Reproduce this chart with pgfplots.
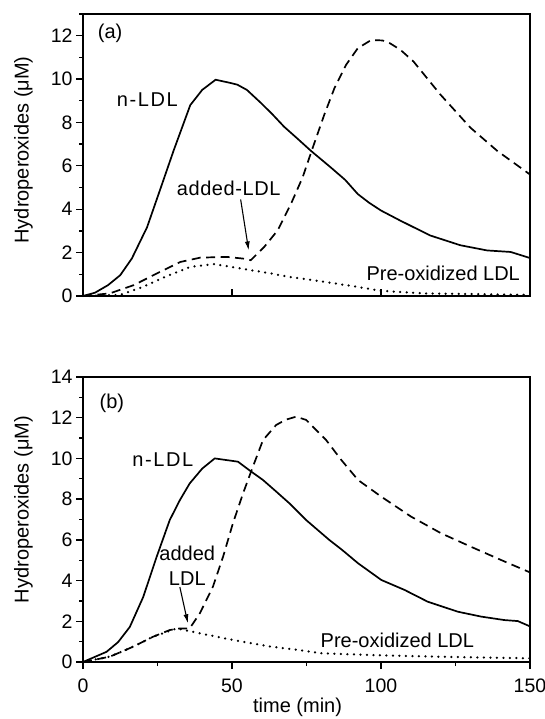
\documentclass[border=0pt]{standalone}
\usepackage{fontspec}
\setmainfont{Liberation Sans}
\usepackage{pgfplots}
\pgfplotsset{compat=1.18}
\usetikzlibrary{arrows.meta}

\pgfplotsset{
  panel/.style={
    scale only axis, width=447pt, xmin=0, xmax=150, ymin=0,
    axis line style={line width=1.6pt},
    every tick/.style={black, line width=1.3pt},
    ytick distance=2, minor y tick num=1,
    major tick length=7pt, minor tick length=4pt,
    ytick align=outside, ytick pos=left, xtick pos=bottom,
    tick label style={font=\fontsize{19.5}{22}\selectfont},
    label style={font=\fontsize{20}{22}\selectfont},
    /pgf/number format/assume math mode=true,
    clip=false,
    ylabel={Hydroperoxides (μM)},
  },
  sol/.style={black, line width=1.7pt},
  das/.style={black, line width=1.7pt, dash pattern=on 9pt off 5.5pt},
  dot/.style={black, line width=2.5pt, line cap=round, dash pattern=on 0pt off 6.5pt},
}
\newcommand{\ann}{\fontsize{20}{25}\selectfont}

\begin{document}
\begin{tikzpicture}
\useasboundingbox (0,0) rectangle (545pt,719pt);

% panel (a)
\begin{axis}[panel, at={(83pt,423pt)}, anchor=south west, height=282pt, ymax=13,
    xtick={50,100}, xticklabels={}, xtick align=inside,
    ylabel style={at={(axis description cs:-0.112,0.518)}, anchor=south, inner sep=0pt}]
\addplot[sol] coordinates {
(0,0) (4,0.15) (8.4,0.5) (12.5,0.96) (16.4,1.73) (21.5,3.17) (26,4.95) (30.4,6.7)
(36,8.8) (40,9.5) (44.5,9.97) (49.5,9.82) (51.8,9.74) (55,9.5) (59.7,8.9) (63.6,8.37)
(67.5,7.8) (72,7.25) (76.5,6.69) (83.2,5.92) (88,5.35) (92.2,4.7) (96,4.3) (100,3.94)
(106.4,3.48) (116.5,2.79) (126.6,2.34) (135.6,2.1) (143.5,2.03) (150,1.75)};
\addplot[das] coordinates {
(0,0) (9,0.12) (17,0.5) (24.8,1.04) (32.7,1.57) (39.4,1.77) (48.4,1.8) (54,1.72)
(56.3,1.65) (58.5,1.95) (60.8,2.26) (65.3,3.02) (69.8,4.25) (73.7,5.47) (77.1,6.84)
(81,8.37) (84.4,9.59) (88.3,10.66) (92.2,11.42) (96.7,11.8) (100.5,11.78) (103,11.65)
(106.5,11.35) (110.9,10.81) (119.9,9.29) (130,7.76) (139,6.69) (150,5.6)};
\addplot[dot] coordinates {
(0,0) (12.5,0.05) (20.3,0.43) (28.2,0.92) (36,1.34) (43.9,1.47) (52.9,1.27) (63,1.04)
(69.3,0.88) (80.6,0.66) (91.8,0.43) (99.7,0.24) (114.3,0.12) (150,0.05)};
\node[font=\ann] at (axis cs:9.1,12.1) {(a)};
\node[font=\ann] at (axis cs:21.6,9.07) {\addfontfeature{LetterSpace=8}n-LDL};
\node[font=\ann] at (axis cs:48.9,4.95) {\addfontfeature{LetterSpace=3}added-LDL};
\node[font=\ann, anchor=east] at (axis cs:147.8,1.05) {Pre-oxidized LDL};
\draw[line width=1.1pt, -{Latex[length=9pt,width=5pt]}] (axis cs:52.9,4.45) -- (axis cs:55.6,2.1);
\end{axis}

% panel (b)
\begin{axis}[panel, at={(83pt,57pt)}, anchor=south west, height=285pt, ymax=14,
    xtick={0,50,100,150}, minor xtick={25,75,125}, xtick align=outside,
    xticklabel style={yshift=-6pt},
    xlabel={time (min)},
    xlabel style={at={(axis description cs:0.48,-0.158)}, anchor=center},
    ylabel style={at={(axis description cs:-0.112,0.535)}, anchor=south, inner sep=0pt}]
\addplot[sol] coordinates {
(0,0) (7.9,0.5) (11.8,0.98) (15.7,1.72) (20.2,3.19) (24.7,5.16) (29.1,6.97) (32.5,7.95)
(35.8,8.77) (40,9.5) (44.2,10.0) (52,9.84) (56,9.4) (60.4,8.94) (65,8.35) (69.3,7.79)
(74.9,6.97) (82.7,5.99) (87,5.5) (92.3,4.85) (100.1,4.03) (107.9,3.54) (115.7,2.96)
(125.8,2.47) (133.6,2.23) (141.4,2.06) (145.9,2.01) (150,1.75)};
\addplot[das] coordinates {
(0,0) (9,0.26) (16.8,0.75) (23.5,1.24) (29.1,1.57) (32.5,1.65) (35.8,1.65) (39.2,2.39)
(43.6,3.7) (47,5.17) (50.3,6.81) (53.7,8.28) (57,9.59) (60.4,10.9) (64.8,11.64)
(68,11.9) (71.5,12.05) (74.9,11.89) (81.6,10.9) (86.7,9.92) (92.3,8.94) (100.1,8.12)
(110.1,7.14) (120.2,6.32) (130.2,5.66) (140.3,5.01) (150,4.4)};
\addplot[dot] coordinates {
(0,0) (9,0.26) (16.8,0.75) (23.5,1.24) (31.4,1.65) (39.2,1.41) (50.3,1.08) (63.2,0.75)
(72.2,0.59) (80,0.43) (96.8,0.34) (119,0.26) (150,0.18)};
\node[font=\ann] at (axis cs:9.7,12.72) {(b)};
\node[font=\ann] at (axis cs:26.8,9.92) {\addfontfeature{LetterSpace=8}n-LDL};
\node[font=\ann, align=center] at (axis cs:35,4.75) {added\\LDL};
\node[font=\ann] at (axis cs:105.5,1.08) {Pre-oxidized LDL};
\draw[line width=1.1pt, -{Latex[length=9pt,width=5pt]}] (axis cs:32.5,3.68) -- (axis cs:35.2,1.9);
\end{axis}
\end{tikzpicture}
\end{document}
